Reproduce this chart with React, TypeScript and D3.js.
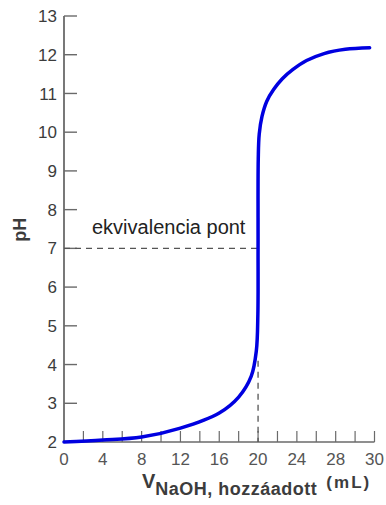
import React from "react";
import * as d3 from "d3";

const volumes = [0, 4, 8, 12, 16, 18, 19.3, 19.82, 19.98, 20.0, 20.02, 20.12, 20.4, 20.9, 21.6, 22.5, 23.6, 25.0, 26.8, 29.0, 31.5];
const phValues = [2.0, 2.05, 2.13, 2.36, 2.75, 3.16, 3.7, 4.35, 5.3, 7.0, 9.3, 9.95, 10.4, 10.8, 11.1, 11.38, 11.62, 11.85, 12.03, 12.14, 12.18];
const yTicks = [2, 3, 4, 5, 6, 7, 8, 9, 10, 11, 12, 13];
const xTickMarks = [2, 4, 6, 8, 10, 12, 14, 16, 18, 20, 22, 24, 26, 28, 30, 32];
const xLabelValues = [0, 4, 8, 12, 16, 20, 24, 28, 32];
const xLabelTexts = ["0", "4", "8", "12", "16", "20", "24", "28", "30"];
const equivVolume = 20;
const equivPH = 7;
const equivLabel = "ekvivalencia pont";

export default function App() {
  const W = 386, H = 505;
  const x = d3.scaleLinear().domain([0, 32]).range([64, 374.5]);
  const y = d3.scaleLinear().domain([2, 13]).range([442, 16]);
  const pts = volumes.map((v, i) => [v, phValues[i]] as [number, number]);
  const line = d3.line<[number, number]>().x(d => x(d[0])).y(d => y(d[1])).curve(d3.curveCatmullRom.alpha(0.5));
  const font = "'Liberation Sans', Arial, sans-serif";
  const axisColor = "#6a6a6a";
  const textColor = "#3c3c3c";
  return (
    <svg width={W} height={H} style={{ position: "absolute", left: 0, top: 0, background: "#fff" }}>
      {/* y axis */}
      <line x1={x(0)} x2={x(0)} y1={y(13)} y2={y(2)} stroke={axisColor} strokeWidth={1.8} />
      {yTicks.map(t => (
        <g key={t}>
          <line x1={x(0)} x2={x(0) + 13} y1={y(t)} y2={y(t)} stroke={axisColor} strokeWidth={1.4} />
          <text x={57} y={y(t)} dy="0.36em" textAnchor="end" fontFamily={font} fontSize={17} fill={textColor}>{t}</text>
        </g>
      ))}
      {/* x axis */}
      <line x1={x(0)} x2={x(32)} y1={y(2)} y2={y(2)} stroke={axisColor} strokeWidth={1.5} />
      {xTickMarks.map(t => (
        <line key={t} x1={x(t)} x2={x(t)} y1={y(2)} y2={y(2) - 11} stroke={axisColor} strokeWidth={1.2} />
      ))}
      {xLabelValues.map((t, i) => (
        <text key={t} x={x(t)} y={465} textAnchor="middle" fontFamily={font} fontSize={17} fill="#555">{xLabelTexts[i]}</text>
      ))}
      {/* dashed guides */}
      <line x1={x(0)} x2={x(equivVolume)} y1={y(equivPH)} y2={y(equivPH)} stroke="#555" strokeWidth={1.3} strokeDasharray="6,5" />
      <line x1={x(equivVolume)} x2={x(equivVolume)} y1={y(4.1)} y2={y(2)} stroke="#555" strokeWidth={1.3} strokeDasharray="6,5" />
      <text x={92} y={234} fontFamily={font} fontSize={20} fill="#222">{equivLabel}</text>
      {/* curve */}
      <path d={line(pts) || ""} fill="none" stroke="#0000e0" strokeWidth={3.5} strokeLinecap="round" />
      {/* axis titles */}
      <text transform={`translate(26,${y(7.48)}) rotate(-90)`} textAnchor="middle" fontFamily={font} fontSize={18} fontWeight="bold" fill={textColor}>pH</text>
      <text x={142} y={488} fontFamily={font} fill={textColor} fontWeight="bold">
        <tspan fontSize={20}>V</tspan>
        <tspan fontSize={18} dy={7} letterSpacing={0.5}>NaOH, hozzáadott</tspan>
        <tspan fontSize={17} dy={-7} dx={9} letterSpacing={2}>(mL)</tspan>
      </text>
    </svg>
  );
}
